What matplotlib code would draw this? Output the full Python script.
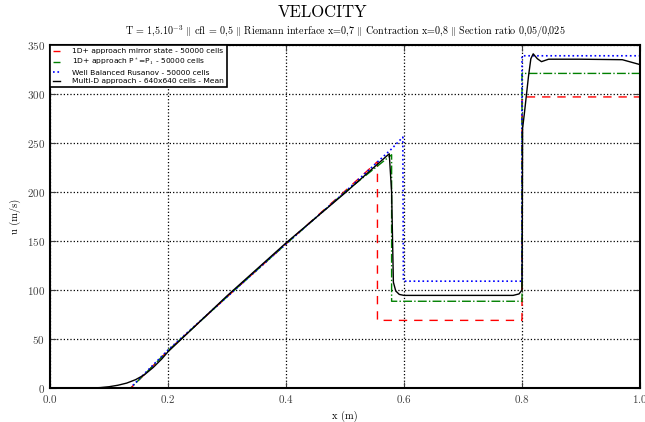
import matplotlib
matplotlib.use("Agg")
import matplotlib.pyplot as plt

plt.rcParams['font.family'] = ['cmr10', 'DejaVu Serif']
plt.rcParams['mathtext.fontset'] = 'cm'
plt.rcParams['axes.formatter.use_mathtext'] = True

# 1D+ approach mirror state
x_mirror = [0.0, 0.137, 0.2, 0.3, 0.4, 0.5, 0.555, 0.555, 0.8, 0.8, 1.0]
u_mirror = [0, 0, 38, 93, 147, 201, 231, 69, 69, 297, 297]

# 1D+ approach P*=P1
x_pstar = [0.0, 0.137, 0.2, 0.3, 0.4, 0.5, 0.579, 0.579, 0.8, 0.8, 1.0]
u_pstar = [0, 0, 38, 93, 147, 200, 238, 88.5, 88.5, 321, 321]

# well balanced rusanov
x_wb = [0.0, 0.136, 0.2, 0.3, 0.4, 0.5, 0.579, 0.59, 0.598, 0.599, 0.8, 0.8, 1.0]
u_wb = [0, 0, 38.8, 93, 147, 200, 244, 251, 256, 109, 109, 339, 339]

# multi-D mean
x_md = [0.0, 0.07, 0.085, 0.1, 0.115, 0.13, 0.145, 0.16, 0.175, 0.19, 0.2,
        0.3, 0.4, 0.5, 0.575, 0.579,
        0.582, 0.586, 0.592, 0.6, 0.7, 0.785, 0.795, 0.8, 0.8005, 0.801,
        0.804, 0.811, 0.815, 0.819, 0.826, 0.833, 0.845, 0.9, 0.97, 1.0]
u_md = [0, 0, 0.4, 1.3, 2.8, 5.0, 8.5, 13.5, 21, 30, 37,
        94, 148, 199, 239, 200,
        108, 99, 95.5, 94.5, 94.5, 94.5, 96, 100, 160, 265,
        280, 318, 336, 341, 336, 333, 335.5, 335.5, 335, 330]

labels = ["1D+ approach mirror state - 50000 cells",
          r"1D+ approach P$^*$=P$_1$ - 50000 cells",
          "Well Balanced Rusanov - 50000 cells",
          "Multi-D approach - 640x640 cells - Mean"]

x_ticks = [0.0, 0.2, 0.4, 0.6, 0.8, 1.0]
y_ticks = [0, 50, 100, 150, 200, 250, 300, 350]

fig = plt.figure(figsize=(6.45, 4.22), dpi=100)
ax = fig.add_axes([50 / 645, 34 / 422, 590 / 645, 343 / 422])

ax.plot(x_mirror, u_mirror, color='r', linestyle='--', linewidth=1.0,
        dashes=(6, 5), label=labels[0])
ax.plot(x_pstar, u_pstar, color='g', linestyle='-.', linewidth=1.0,
        label=labels[1])
ax.plot(x_wb, u_wb, color='b', linestyle=':', linewidth=1.2,
        label=labels[2])
ax.plot(x_md, u_md, color='k', linestyle='-', linewidth=1.0,
        label=labels[3])

ax.set_xlim(0, 1)
ax.set_ylim(0, 350)
ax.set_xticks(x_ticks)
ax.set_yticks(y_ticks)
ax.grid(True, color='k', linestyle=':', linewidth=0.9)
ax.tick_params(direction='in', top=True, right=True, length=4,
               labelsize=8, colors='0.25')
for sp in ax.spines.values():
    sp.set_linewidth(1.5)

ax.set_xlabel("x (m)", fontsize=7.5)
ax.set_ylabel("u (m/s)", fontsize=7.5)
fig.text(0.5, 0.97, "VELOCITY", ha='center', va='center', fontsize=12)
sep = r" $\|$ "
ax.set_title("T = 1,5.10$^{-3}$" + sep + "cfl = 0,5" + sep
             + "Riemann interface x=0,7" + sep + "Contraction x=0,8" + sep
             + "Section ratio 0,05/0,025", fontsize=7.25, pad=7)

leg = ax.legend(loc='upper left', borderaxespad=0, fancybox=False,
                framealpha=1, edgecolor='k', handlelength=0.9,
                handletextpad=1.6, labelspacing=0.3, borderpad=0.4,
                prop={'family': ['DejaVu Sans'], 'size': 5.4})
leg.get_frame().set_linewidth(1.2)

fig.savefig("out.png", dpi=100)
